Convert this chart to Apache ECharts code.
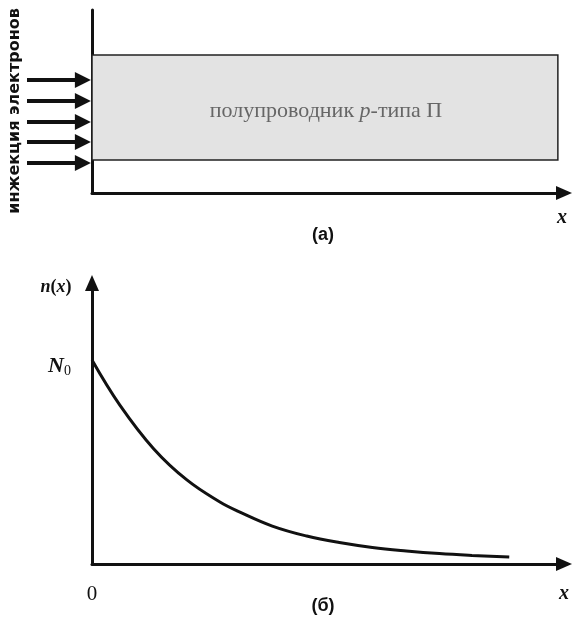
<!DOCTYPE html>
<html>
<head>
<meta charset="utf-8">
<script src="https://cdn.jsdelivr.net/npm/echarts@6/dist/echarts.min.js"></script>
<style>
  html, body { margin: 0; padding: 0; background: #fff; }
  #chart { width: 572px; height: 617px; }
</style>
</head>
<body>
<div id="chart"></div>
<script>
// Panel (а): p-type semiconductor slab, on the shared x scale and the panel's y scale
const slabX = [0, 9.87];
const slabY = [1.8, 7.54];
const slabText = ['полупроводник ', 'p', '-типа П'];
// Electron injection arrows: start/end x on the arrow strip, heights on panel (а) y scale
const injectionX = [0, 0.86];
const injectionY = [6.17, 5.03, 3.88, 2.79, 1.64];
const injectionTitle = 'инжекция электронов';
// Panel (б): electron concentration n(x), in units of N0
const profileX = [0, 0.59, 1.31, 2.01, 2.71, 3.11, 3.82, 4.55, 5.24, 5.94, 6.66, 7.36, 8.05, 8.84];
const profileN = [1.0, 0.779, 0.564, 0.412, 0.304, 0.257, 0.186, 0.137, 0.105, 0.081, 0.064, 0.051, 0.042, 0.034];
const yTickValues = [1];
const xTickValues = [0];
const panelCaptions = ['(а)', '(б)'];

const INK = '#111';
const SERIF = '"Liberation Serif", "DejaVu Serif", serif';
const SANS = '"Liberation Sans", Arial, sans-serif';
const arrowHead = { symbol: ['none', 'triangle'], symbolSize: [14, 16] };

const chart = echarts.init(document.getElementById('chart'), null, { renderer: 'canvas' });

const hiddenAxis = (gridIndex, min, max) => ({
  type: 'value', gridIndex, min, max, show: false
});

const option = {
  backgroundColor: '#fff',
  animation: false,
  grid: [
    { left: 92, top: 10, width: 472, height: 183 },   // panel (а)
    { left: 27, top: 10, width: 65, height: 183 },    // arrow strip left of panel (а)
    { left: 92, top: 283, width: 472, height: 281 }   // panel (б)
  ],
  xAxis: [
    {
      type: 'value', gridIndex: 0, min: 0, max: 10,
      axisLine: { show: true, ...arrowHead, lineStyle: { color: INK, width: 3 } },
      axisTick: { show: false }, axisLabel: { show: false }, splitLine: { show: false }
    },
    hiddenAxis(1, 0, 1),
    {
      type: 'value', gridIndex: 2, min: 0, max: 10,
      axisLine: { show: true, ...arrowHead, lineStyle: { color: INK, width: 3 } },
      axisTick: { show: false },
      axisLabel: {
        show: true, customValues: xTickValues, margin: 20,
        formatter: v => String(v),
        fontFamily: SERIF, fontSize: 21, color: INK
      },
      splitLine: { show: false }
    }
  ],
  yAxis: [
    {
      type: 'value', gridIndex: 0, min: 0, max: 10,
      axisLine: { show: true, lineStyle: { color: INK, width: 3 } },
      axisTick: { show: false }, axisLabel: { show: false }, splitLine: { show: false }
    },
    hiddenAxis(1, 0, 10),
    {
      type: 'value', gridIndex: 2, min: 0, max: 1.377,
      axisLine: { show: true, ...arrowHead, lineStyle: { color: INK, width: 3 } },
      axisTick: { show: false },
      axisLabel: {
        show: true, customValues: yTickValues, margin: 21,
        padding: [12, 0, 0, 0],
        formatter: () => '{n|N}{s|0}',
        rich: {
          n: { fontFamily: SERIF, fontStyle: 'italic', fontWeight: 'bold', fontSize: 22, color: INK, lineHeight: 24 },
          s: { fontFamily: SERIF, fontSize: 14, color: INK, lineHeight: 18, verticalAlign: 'bottom', padding: [0, 0, 0, 0] }
        }
      },
      splitLine: { show: false }
    }
  ],
  series: [
    {
      // shaded semiconductor slab with its caption
      type: 'custom', xAxisIndex: 0, yAxisIndex: 0,
      data: [[slabX[0], slabY[0], slabX[1], slabY[1]]],
      renderItem: (params, api) => {
        const p0 = api.coord([api.value(0), api.value(3)]);
        const p1 = api.coord([api.value(2), api.value(1)]);
        return {
          type: 'group',
          children: [
            {
              type: 'rect',
              shape: { x: p0[0], y: p0[1], width: p1[0] - p0[0], height: p1[1] - p0[1] },
              style: { fill: '#e3e3e3', stroke: '#222', lineWidth: 1.5 }
            },
            {
              type: 'text',
              x: 326, y: p0[1] + 56,
              style: {
                text: `{a|${slabText[0]}}{i|${slabText[1]}}{a|${slabText[2]}}`,
                align: 'center', verticalAlign: 'middle',
                rich: {
                  a: { fontFamily: SERIF, fontSize: 22, fill: '#666' },
                  i: { fontFamily: SERIF, fontSize: 22, fontStyle: 'italic', fill: '#666' }
                }
              }
            }
          ]
        };
      }
    },
    {
      // injected electron flux
      type: 'lines', coordinateSystem: 'cartesian2d', xAxisIndex: 1, yAxisIndex: 1,
      symbol: ['none', 'triangle'], symbolSize: [0, 16],
      lineStyle: { color: INK, width: 4, opacity: 1, type: 'solid' },
      silent: true,
      data: injectionY.map(y => ({ coords: [[injectionX[0], y], [injectionX[1], y]] }))
    },
    {
      // concentration profile n(x)
      type: 'line', xAxisIndex: 2, yAxisIndex: 2,
      data: profileX.map((x, i) => [x, profileN[i]]),
      showSymbol: false, smooth: 0.4,
      lineStyle: { color: INK, width: 3 },
      silent: true
    }
  ],
  graphic: [
    {
      type: 'text', x: 15, y: 111, rotation: Math.PI / 2,
      style: { text: injectionTitle, font: 'bold 16px "DejaVu Sans"', fill: INK, align: 'center', verticalAlign: 'middle' }
    },
    {
      type: 'text', x: 562, y: 218,
      style: { text: 'x', font: `italic bold 20px ${SERIF}`, fill: INK, align: 'center', verticalAlign: 'middle' }
    },
    {
      type: 'text', x: 323, y: 235,
      style: { text: panelCaptions[0], font: `bold 18px ${SANS}`, fill: INK, align: 'center', verticalAlign: 'middle' }
    },
    {
      type: 'text', x: 56, y: 287,
      style: {
        text: '{i|n}{r|(}{i|x}{r|)}', align: 'center', verticalAlign: 'middle',
        rich: {
          i: { fontFamily: SERIF, fontStyle: 'italic', fontWeight: 'bold', fontSize: 18, fill: INK },
          r: { fontFamily: SERIF, fontWeight: 'bold', fontSize: 18, fill: INK }
        }
      }
    },
    {
      type: 'text', x: 564, y: 594,
      style: { text: 'x', font: `italic bold 20px ${SERIF}`, fill: INK, align: 'center', verticalAlign: 'middle' }
    },
    {
      type: 'text', x: 323, y: 606,
      style: { text: panelCaptions[1], font: `bold 18px ${SANS}`, fill: INK, align: 'center', verticalAlign: 'middle' }
    }
  ]
};

chart.setOption(option);
</script>
</body>
</html>
